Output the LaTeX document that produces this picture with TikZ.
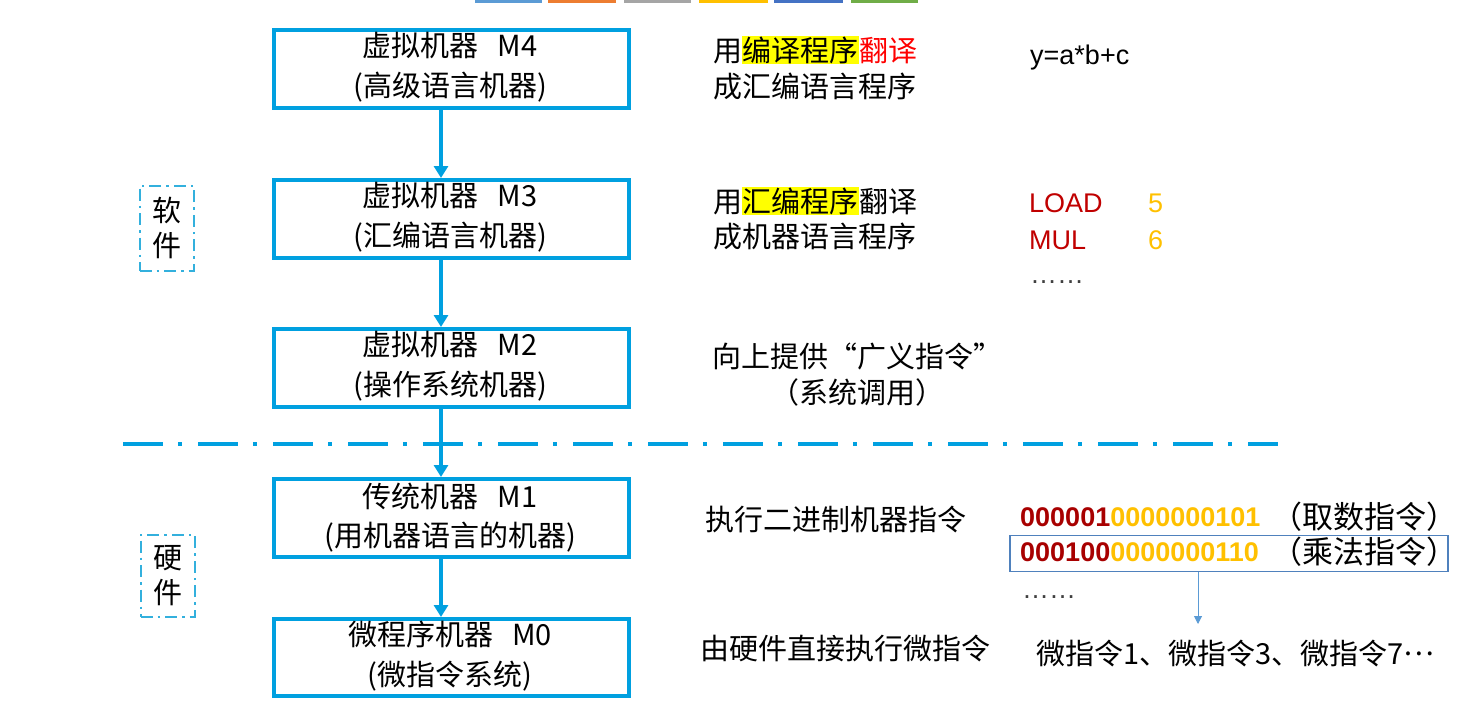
\documentclass[tikz,border=0pt]{standalone}
\usepackage{fontspec}
\setmainfont{Noto Sans CJK SC}
\newfontfamily\arialf{Liberation Sans}
\usetikzlibrary{arrows.meta}
\definecolor{boxblue}{HTML}{00A0E0}
\definecolor{dashblue}{HTML}{33B0DD}
\definecolor{darkred}{HTML}{C00000}
\definecolor{binred}{HTML}{A80000}
\definecolor{gold}{HTML}{FFC000}
\definecolor{hlyellow}{HTML}{FFFF00}
\definecolor{pureRed}{HTML}{FF0000}
\definecolor{thinblue}{HTML}{4F81BD}
\definecolor{arrblue}{HTML}{5B9BD5}
\definecolor{barblue}{HTML}{5B9BD5}
\definecolor{barorange}{HTML}{ED7D31}
\definecolor{bargray}{HTML}{A5A5A5}
\definecolor{bargold}{HTML}{FFC000}
\definecolor{bardblue}{HTML}{4472C4}
\definecolor{bargreen}{HTML}{70AD47}
\definecolor{dotgray}{HTML}{404040}
\newcommand{\hly}[1]{{\setlength{\fboxsep}{0.5pt}\colorbox{hlyellow}{#1}}}
\newcommand{\mgap}{\hspace{0.65em}}
\begin{document}
\begin{tikzpicture}[x=1pt,y=-1pt,
  mbox/.style={draw=boxblue,line width=4pt,minimum width=355pt,minimum height=78pt,inner sep=0pt},
  btxt/.style={font=\fontsize{29}{34}\selectfont,inner sep=0pt},
  rtxt/.style={font=\fontsize{29}{34}\selectfont,inner sep=0pt,anchor=west},
  ctxt/.style={font=\fontsize{29}{34}\selectfont,inner sep=0pt},
  qtxt/.style={font=\fontsize{31}{34}\selectfont,inner sep=0pt,anchor=west},
  arr/.style={draw=boxblue,line width=4pt,-{Triangle[width=14pt,length=12pt]}},
  sidebox/.style={draw=dashblue,line width=2pt,dash pattern=on 12pt off 5pt on 2.5pt off 5pt,
    minimum width=54pt,align=center,font=\fontsize{29}{35}\selectfont,inner sep=0pt},
  sepline/.style={draw=boxblue,line width=4pt,dash pattern=on 40pt off 15pt on 4pt off 16pt},
  sans/.style={font=\arialf\fontsize{27}{32}\selectfont,inner sep=0pt,anchor=west},
  bin/.style={font=\arialf\bfseries\fontsize{27}{32}\selectfont,inner sep=0pt,anchor=west},
  dots/.style={font=\arialf\fontsize{27}{32}\selectfont,inner sep=0pt,anchor=base west,text=dotgray},
  thinbox/.style={draw=thinblue,line width=1.2pt,minimum width=438pt,minimum height=36pt,inner sep=0pt},
  thinarr/.style={draw=arrblue,line width=1pt,-{Triangle[width=8pt,length=8pt]}}]
\useasboundingbox (0,0) rectangle (1480,710);
% top colour bars
\fill[barblue] (475,0) rectangle (542,3);
\fill[barorange] (548,0) rectangle (616,3);
\fill[bargray] (624,0) rectangle (691,3);
\fill[bargold] (699,0) rectangle (768,3);
\fill[bardblue] (774,0) rectangle (843,3);
\fill[bargreen] (851,0) rectangle (918,3);

% machine boxes
\node[mbox] (b4) at (451.5,69) {};
\node[mbox] (b3) at (451.5,219) {};
\node[mbox] (b2) at (451.5,368) {};
\node[mbox] (b1) at (451.5,518) {};
\node[mbox,minimum height=77pt] (b0) at (451.5,657.5) {};

\node[btxt] (b4a) at (450,45) {虚拟机器\mgap M4};
\node[btxt] (b4b) at (450,87) {(高级语言机器)};
\node[btxt] (b3a) at (450,195) {虚拟机器\mgap M3};
\node[btxt] (b3b) at (450,237) {(汇编语言机器)};
\node[btxt] (b2a) at (450,344) {虚拟机器\mgap M2};
\node[btxt] (b2b) at (450,386) {(操作系统机器)};
\node[btxt] (b1a) at (450,496) {传统机器\mgap M1};
\node[btxt] (b1b) at (450,537) {(用机器语言的机器)};
\node[btxt] (b0a) at (450,634) {微程序机器\mgap M0};
\node[btxt] (b0b) at (450,676) {(微指令系统)};

% arrows
\coordinate (ax) at (441,0);
\draw[arr] (b4.south -| ax) -- (b3.north -| ax);
\draw[arr] (b3.south -| ax) -- (b2.north -| ax);
\draw[arr] (b2.south -| ax) -- (b1.north -| ax);
\draw[arr] (b1.south -| ax) -- (b0.north -| ax);

% separator
\coordinate (sepL) at (123,444);
\coordinate (sepR) at (1278,444);
\draw[sepline] (sepL) -- (sepR);

% side labels
\node[sidebox,minimum height=85pt] (soft) at (166.5,228) {软\\件};
\node[sidebox,minimum height=82pt] (hard) at (167.5,575.5) {硬\\件};

% right descriptions
\node[rtxt] (t4a) at (713,50) {用\hly{编译程序}\textcolor{pureRed}{翻译}};
\node[rtxt] (t4b) at (713,86) {成汇编语言程序};
\node[rtxt] (t3a) at (713,201) {用\hly{汇编程序}翻译};
\node[rtxt] (t3b) at (713,237) {成机器语言程序};
\node[ctxt] (t2a) at (857,357) {向上提供{\addfontfeature{RawFeature=+fwid}“}广义指令{\addfontfeature{RawFeature=+fwid}”}};
\node[ctxt] (t2b) at (857,392) {（系统调用）};
\node[rtxt] (t1) at (705,519) {执行二进制机器指令};
\node[rtxt] (t0) at (700,648) {由硬件直接执行微指令};

% examples
\node[sans] (expr) at (1030,58) {y=a*b+c};
\node[sans,text=darkred] (load) at (1029,203) {LOAD};
\node[sans,text=gold] (five) at (1148,203) {5};
\node[sans,text=darkred] (mul) at (1029,240) {MUL};
\node[sans,text=gold] (six) at (1148,240) {6};
\node[dots] (dots1) at (1030,283) {……};

\node[thinbox] (binbox) at (1229,553.5) {};
\node[bin] (bin1) at (1020,517) {\textcolor{binred}{000001}\textcolor{gold}{0000000101}};
\node[qtxt] (q1) at (1271,517) {（取数指令）};
\node[bin] (bin2) at (1020,552) {\textcolor{binred}{000100}\textcolor{gold}{0000000110}};
\node[qtxt] (q2) at (1271,552) {（乘法指令）};
\node[dots] (dots2) at (1022,598) {……};

\coordinate (arrEnd) at (1198,624);
\draw[thinarr] (binbox.south -| arrEnd) -- (arrEnd);

\node[rtxt] (micro) at (1036,653) {微指令1、微指令3、微指令7\raisebox{0.3em}{…}};
\end{tikzpicture}
\end{document}
